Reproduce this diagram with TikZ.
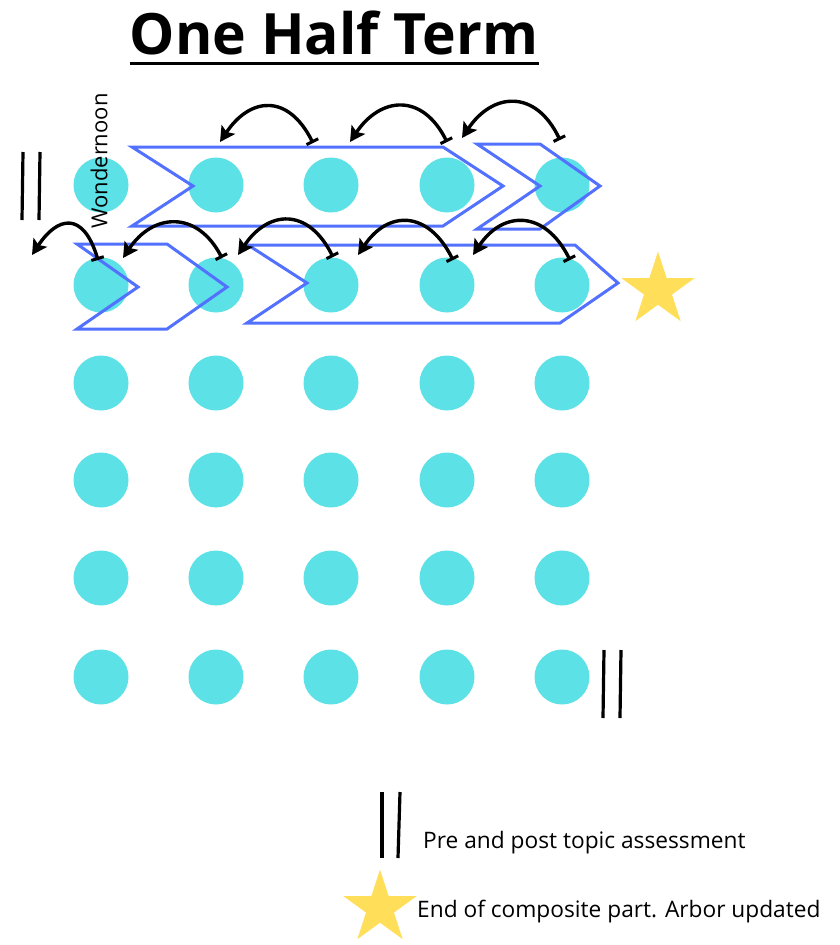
\documentclass[tikz,border=0pt]{standalone}
\usepackage{fontspec}
\setmainfont{Open Sans}
\usetikzlibrary{arrows.meta,shapes.geometric}
\definecolor{dot}{HTML}{5CE1E6}
\definecolor{chev}{HTML}{5271FF}
\definecolor{stary}{HTML}{FFDE59}
\tikzset{
  dotc/.style={circle,fill=dot,minimum size=55pt,inner sep=0pt},
  chevron/.style={draw=chev,line width=3pt,line join=miter},
  hop/.style={line width=3.4pt,{Bar[width=13pt,line width=3pt]}-{Stealth[length=15pt,width=16pt,inset=3pt]}},
  bars/.style={line width=3.2pt,black},
  starc/.style={star,star points=5,star point ratio=2.618,fill=stary,inner sep=0pt,minimum size=77pt},
}
\begin{document}
\begin{tikzpicture}[x=1pt,y=-1pt]
\useasboundingbox (0,0) rectangle (839,945);
% title
\node[anchor=base,font=\bfseries\fontsize{57}{66}\selectfont,inner sep=0pt] (title) at (334,54) {One Half Term};
\draw[line width=3pt] (130,63) -- (539,63);
% dots
\foreach \r/\y in {1/185,2/285,3/383,4/480,5/578,6/677}{
  \foreach \c/\x in {1/101,2/216,3/331,4/447,5/562}{
    \node[dotc] (d\r\c) at (\x,\y) {};
  }
}
% wondernoon
\node[rotate=90,font=\fontsize{22}{26}\selectfont,inner sep=0pt] (won) at (99,161) {Wondernoon};
% chevrons
\draw[chevron] (132,147) -- (443,147) -- (503,186) -- (443,226) -- (132,226) -- (193,186) -- cycle;
\draw[chevron] (477,144) -- (540,144) -- (600,186) -- (540,229) -- (477,229) -- (540,186) -- cycle;
\draw[chevron] (77,244) -- (167,244) -- (227,287) -- (167,329) -- (77,329) -- (138,287) -- cycle;
\draw[chevron] (248,245) -- (575,245) -- (618,283) -- (560,323) -- (247,323) -- (307,283) -- cycle;
% arrow ends
\coordinate (a1s) at (313,143); \coordinate (a1e) at (220,142);
\coordinate (a2s) at (447,142); \coordinate (a2e) at (350,142);
\coordinate (a3s) at (560,140); \coordinate (a3e) at (462,138);
\coordinate (b1s) at (98,260);  \coordinate (b1e) at (32,255);
\coordinate (b2s) at (222,258); \coordinate (b2e) at (123,258);
\coordinate (b3s) at (333,257); \coordinate (b3e) at (238,255);
\coordinate (b4s) at (453,260); \coordinate (b4e) at (358,255);
\coordinate (b5s) at (570,260); \coordinate (b5e) at (473,255);
\draw[hop] (a1s) .. controls +(-25,-50) and +(30,-45) .. (a1e);
\draw[hop] (a2s) .. controls +(-25,-50) and +(30,-45) .. (a2e);
\draw[hop] (a3s) .. controls +(-25,-52) and +(30,-45) .. (a3e);
\draw[hop] (b1s) .. controls +(-15,-50) and +(25,-38) .. (b1e);
\draw[hop] (b2s) .. controls +(-25,-48) and +(30,-45) .. (b2e);
\draw[hop] (b3s) .. controls +(-25,-50) and +(30,-45) .. (b3e);
\draw[hop] (b4s) .. controls +(-25,-50) and +(30,-45) .. (b4e);
\draw[hop] (b5s) .. controls +(-25,-50) and +(30,-45) .. (b5e);
% star
\node[starc] (st) at (658,290) {};
% double bars
\draw[bars] (23,152) -- (22,220);
\draw[bars] (40,152) -- (39,220);
\draw[bars] (604,650) -- (603,718);
\draw[bars] (621,650) -- (620,718);
% legend
\draw[bars] (382,792) -- (382,858);
\draw[bars] (400,792) -- (398,858);
\node[anchor=base west,inner sep=0pt,font=\fontsize{22.7}{26}\selectfont] (l1) at (423,848) {Pre and post topic assessment};
\node[starc] (lst) at (380,908) {};
\node[anchor=base west,inner sep=0pt,font=\fontsize{22.7}{26}\selectfont] (l2) at (417,917) {End of composite part. Arbor updated};
\end{tikzpicture}
\end{document}
